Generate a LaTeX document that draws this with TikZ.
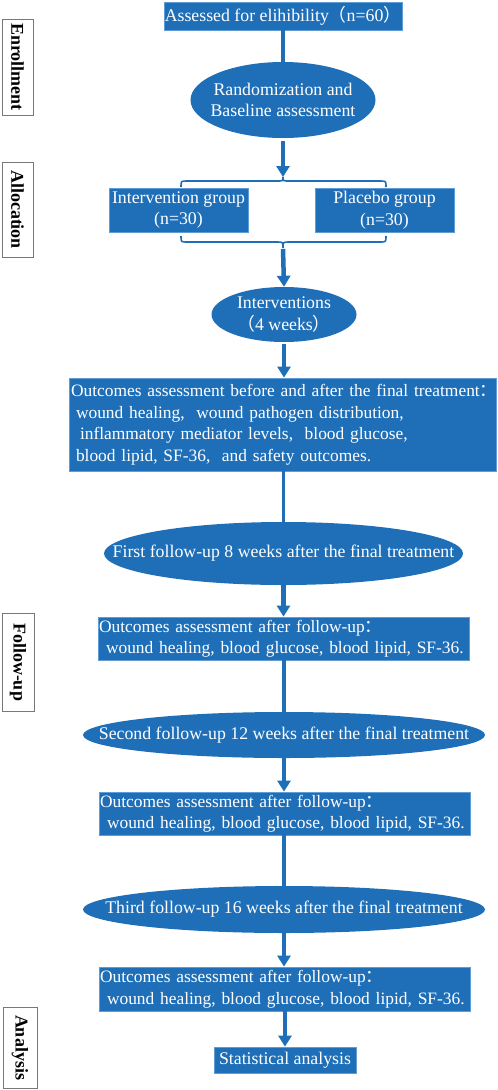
\documentclass[tikz,border=0pt]{standalone}
\usepackage{fontspec}
\setmainfont{Liberation Serif}
\newfontfamily\cjk{Noto Sans CJK SC}
\usetikzlibrary{shapes.geometric,arrows.meta}
\definecolor{flowblue}{RGB}{30,111,184}
\definecolor{edgeblue}{RGB}{96,156,214}
\definecolor{labgray}{RGB}{120,120,120}
\tikzset{
  box/.style={rectangle,fill=flowblue,draw=edgeblue,line width=0.8pt,text=white,
    inner sep=0pt,font=\fontsize{17.8}{21.5}\selectfont,align=center},
  outbox/.style={box,font=\fontsize{17.4}{21.5}\selectfont,align=left},
  oval/.style={ellipse,fill=flowblue,draw=none,text=white,
    inner xsep=-300pt,inner ysep=-60pt,
    font=\fontsize{17.8}{21.5}\selectfont,align=center},
  stage/.style={rectangle,draw=labgray,fill=white,line width=1pt,rotate=-90,
    inner sep=0pt,font=\bfseries\fontsize{18}{20}\selectfont},
  link/.style={draw=flowblue,line width=3.5pt},
  flowarrow/.style={draw=flowblue,line width=4.5pt,
    -{Triangle[width=13pt,length=11pt]},color=flowblue},
  bracket/.style={draw=flowblue,line width=1.6pt},
}
\begin{document}
\begin{tikzpicture}[x=1pt,y=-1pt]
\useasboundingbox (0,0) rectangle (498,1090);

% stage labels
\node[stage,minimum width=96,minimum height=31] (lenr) at (17.5,67) {Enrollment};
\node[stage,minimum width=95,minimum height=31] (lall) at (17.5,209.5) {Allocation};
\node[stage,minimum width=98,minimum height=32] (lfol) at (18,662) {Follow-up};
\node[stage,minimum width=81,minimum height=34] (lana) at (20,1047.5) {Analysis};

% nodes
\node[box,minimum width=238,minimum height=28] (top) at (283,16)
  {Assessed for elihibility{\cjk（}n=60{\cjk）}};
\node[oval,minimum width=185,minimum height=76] (rand) at (283,100)
  {Randomization and\\Baseline assessment};
\node[box,minimum width=139,minimum height=44] (intv) at (178.5,210)
  {Intervention group\\(n=30)};
\node[box,minimum width=139,minimum height=44] (plac) at (384.5,210)
  {Placebo group\\(n=30)};
\node[oval,minimum width=145,minimum height=55] (interv) at (284,314.5)
  {Interventions\\{\cjk（}4 weeks{\cjk）}};
\node[outbox,minimum width=427,minimum height=93,text width=423] (out1) at (282.5,424.5)
  {\mbox{Outcomes assessment before and after the final treatment{\cjk：}}\\
   \mbox{\hspace*{5pt}wound healing,\ \ wound pathogen distribution,}\\
   \mbox{\hspace*{9pt}inflammatory mediator levels,\ \ blood glucose,}\\
   \mbox{\hspace*{5pt}blood lipid, SF-36,\ \ and safety outcomes.}};
\node[oval,minimum width=359,minimum height=63] (fu1) at (283.5,553.5)
  {First follow-up 8 weeks after the final treatment};
\node[outbox,minimum width=371,minimum height=43,text width=369] (out2) at (283.5,638.5)
  {\mbox{Outcomes assessment after follow-up{\cjk：}}\\
   \mbox{\hspace*{7pt}wound healing, blood glucose, blood lipid, SF-36.}};
\node[oval,minimum width=402,minimum height=46] (fu2) at (284,735)
  {Second follow-up 12 weeks after the final treatment};
\node[outbox,minimum width=371,minimum height=43,text width=369] (out3) at (284.5,813.5)
  {\mbox{Outcomes assessment after follow-up{\cjk：}}\\
   \mbox{\hspace*{7pt}wound healing, blood glucose, blood lipid, SF-36.}};
\node[oval,minimum width=402,minimum height=47] (fu3) at (284,909.5)
  {Third follow-up 16 weeks after the final treatment};
\node[outbox,minimum width=371,minimum height=44,text width=369] (out4) at (284.5,989)
  {\mbox{Outcomes assessment after follow-up{\cjk：}}\\
   \mbox{\hspace*{7pt}wound healing, blood glucose, blood lipid, SF-36.}};
\node[box,minimum width=142,minimum height=26] (stat) at (285,1060)
  {Statistical analysis};

% braces
\coordinate (btop) at (283,177);
\coordinate (bbot) at (283,248);
\draw[bracket] (181,187) .. controls (181,181) .. (187,181) -- (277,181)
  .. controls (283,181) .. (btop) .. controls (283,181) .. (289,181) -- (380,181)
  .. controls (386,181) .. (386,187);
\draw[bracket] (181,236) .. controls (181,242) .. (187,242) -- (277,242)
  .. controls (283,242) .. (bbot) .. controls (283,242) .. (289,242) -- (380,242)
  .. controls (386,242) .. (386,236);

% connectors
\draw[link] (top.south) -- (rand.north);
\draw[flowarrow,shorten <=3pt] (rand.south) -- (btop);
\draw[flowarrow,shorten <=1pt] (bbot) -- (interv.north);
\draw[flowarrow,shorten <=2pt] (interv.south) -- (interv.south |- out1.north);
\draw[link] (out1.south -| fu1.north) -- (fu1.north);
\draw[flowarrow] (fu1.south) -- (fu1.south |- out2.north);
\draw[link] (out2.south -| fu2.north) -- (fu2.north);
\draw[flowarrow] (fu2.south) -- (fu2.south |- out3.north);
\draw[link] (out3.south -| fu3.north) -- (fu3.north);
\draw[flowarrow] (fu3.south) -- (fu3.south |- out4.north);
\draw[flowarrow] (out4.south -| stat.north) -- (stat.north);
\end{tikzpicture}
\end{document}
